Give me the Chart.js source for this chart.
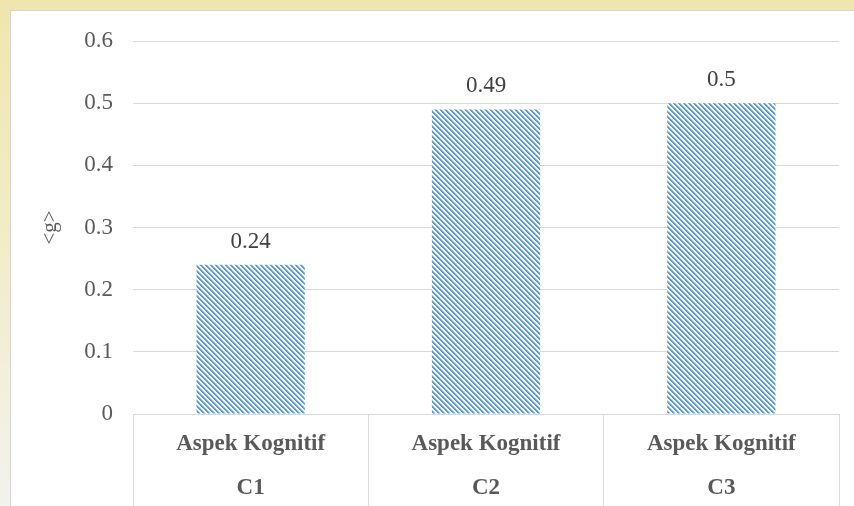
<!DOCTYPE html>
<html>
<head>
<meta charset="utf-8">
<script src="https://cdn.jsdelivr.net/npm/chart.js@4/dist/chart.umd.min.js"></script>
<style>
  html, body { margin: 0; padding: 0; width: 854px; height: 506px; overflow: hidden;
    background: linear-gradient(#efe6ad, #f2ecc6 45%, #f2f2ee); }
  #panel { position: absolute; left: 10px; top: 10px; width: 844px; height: 496px; background: #fff;
    border-left: 1px solid #d4d4d4; border-top: 1px solid #d4d4d4; box-sizing: border-box; }
  #wrap { position: absolute; left: 0; top: 0; width: 854px; height: 506px; }
</style>
</head>
<body>
<div id="panel"></div>
<div id="wrap"><canvas id="chart" width="854" height="506"></canvas></div>
<script>
// Categories (two-line axis labels), gain values and y-axis ticks
const categories = [["Aspek Kognitif", "C1"], ["Aspek Kognitif", "C2"], ["Aspek Kognitif", "C3"]];
const gainValues = [0.24, 0.49, 0.5];
const yTickValues = [0, 0.1, 0.2, 0.3, 0.4, 0.5, 0.6];
const yTickLabels = ["0", "0.1", "0.2", "0.3", "0.4", "0.5", "0.6"];
const yAxisTitle = "<g>";

const SERIF = '"Liberation Serif", "Times New Roman", serif';
const BLUE = '#5b9bd5';

// Diagonal "\\" hatch fill used for the bars
function stripePattern() {
  const n = 5;
  const tile = document.createElement('canvas');
  tile.width = n; tile.height = n;
  const g = tile.getContext('2d');
  g.fillStyle = '#ffffff';
  g.fillRect(0, 0, n, n);
  for (let y = 0; y < n; y++) {
    for (let x = 0; x < n; x++) {
      const k = ((x - y) % n + n) % n;
      if (k < 2) { g.fillStyle = BLUE; g.fillRect(x, y, 1, 1); }
      else if (k === 2) { g.fillStyle = '#a8c9ea'; g.fillRect(x, y, 1, 1); }
    }
  }
  return g.createPattern(tile, 'repeat');
}

// Value written above each bar
const valueLabels = {
  id: 'valueLabels',
  afterDatasetsDraw(chart) {
    const ctx = chart.ctx;
    const meta = chart.getDatasetMeta(0);
    ctx.save();
    ctx.font = '23px ' + SERIF;
    ctx.fillStyle = '#404040';
    ctx.textAlign = 'center';
    ctx.textBaseline = 'middle';
    meta.data.forEach((bar, i) => {
      ctx.fillText(String(gainValues[i]), bar.x, bar.y - 23);
    });
    ctx.restore();
  }
};

new Chart(document.getElementById('chart'), {
  type: 'bar',
  data: {
    labels: categories,
    datasets: [{
      data: gainValues,
      backgroundColor: stripePattern(),
      borderWidth: 0,
      categoryPercentage: 1,
      barPercentage: 0.46
    }]
  },
  options: {
    responsive: false,
    animation: false,
    devicePixelRatio: 1,
    layout: { padding: { left: 10, top: 41, right: 15, bottom: 0 } },
    plugins: { legend: { display: false }, tooltip: { enabled: false } },
    scales: {
      x: {
        grid: { display: true, drawOnChartArea: false, drawTicks: true, tickLength: 92, offset: true, color: '#d9d9d9', lineWidth: 1 },
        border: { display: true, color: '#d9d9d9' },
        ticks: {
          padding: -84, autoSkip: false, maxRotation: 0,
          color: '#595959',
          font: { family: SERIF, size: 23, weight: 'bold', lineHeight: '44px' }
        },
        afterFit(scale) { scale.height = 92; }
      },
      y: {
        min: 0, max: 0.6,
        afterBuildTicks(scale) { scale.ticks = yTickValues.map(v => ({ value: v })); },
        ticks: {
          padding: 20,
          color: '#595959',
          font: { family: SERIF, size: 23 },
          callback: (v) => yTickLabels[yTickValues.findIndex(t => Math.abs(t - v) < 1e-9)]
        },
        grid: { color: '#d9d9d9', drawTicks: false, lineWidth: 1 },
        border: { display: false },
        title: {
          display: true, text: yAxisTitle, color: '#595959',
          font: { family: SERIF, size: 21 }, padding: { top: 28, bottom: 0 }
        },
        afterFit(scale) { scale.width = 123; }
      }
    }
  },
  plugins: [valueLabels]
});
</script>
</body>
</html>
